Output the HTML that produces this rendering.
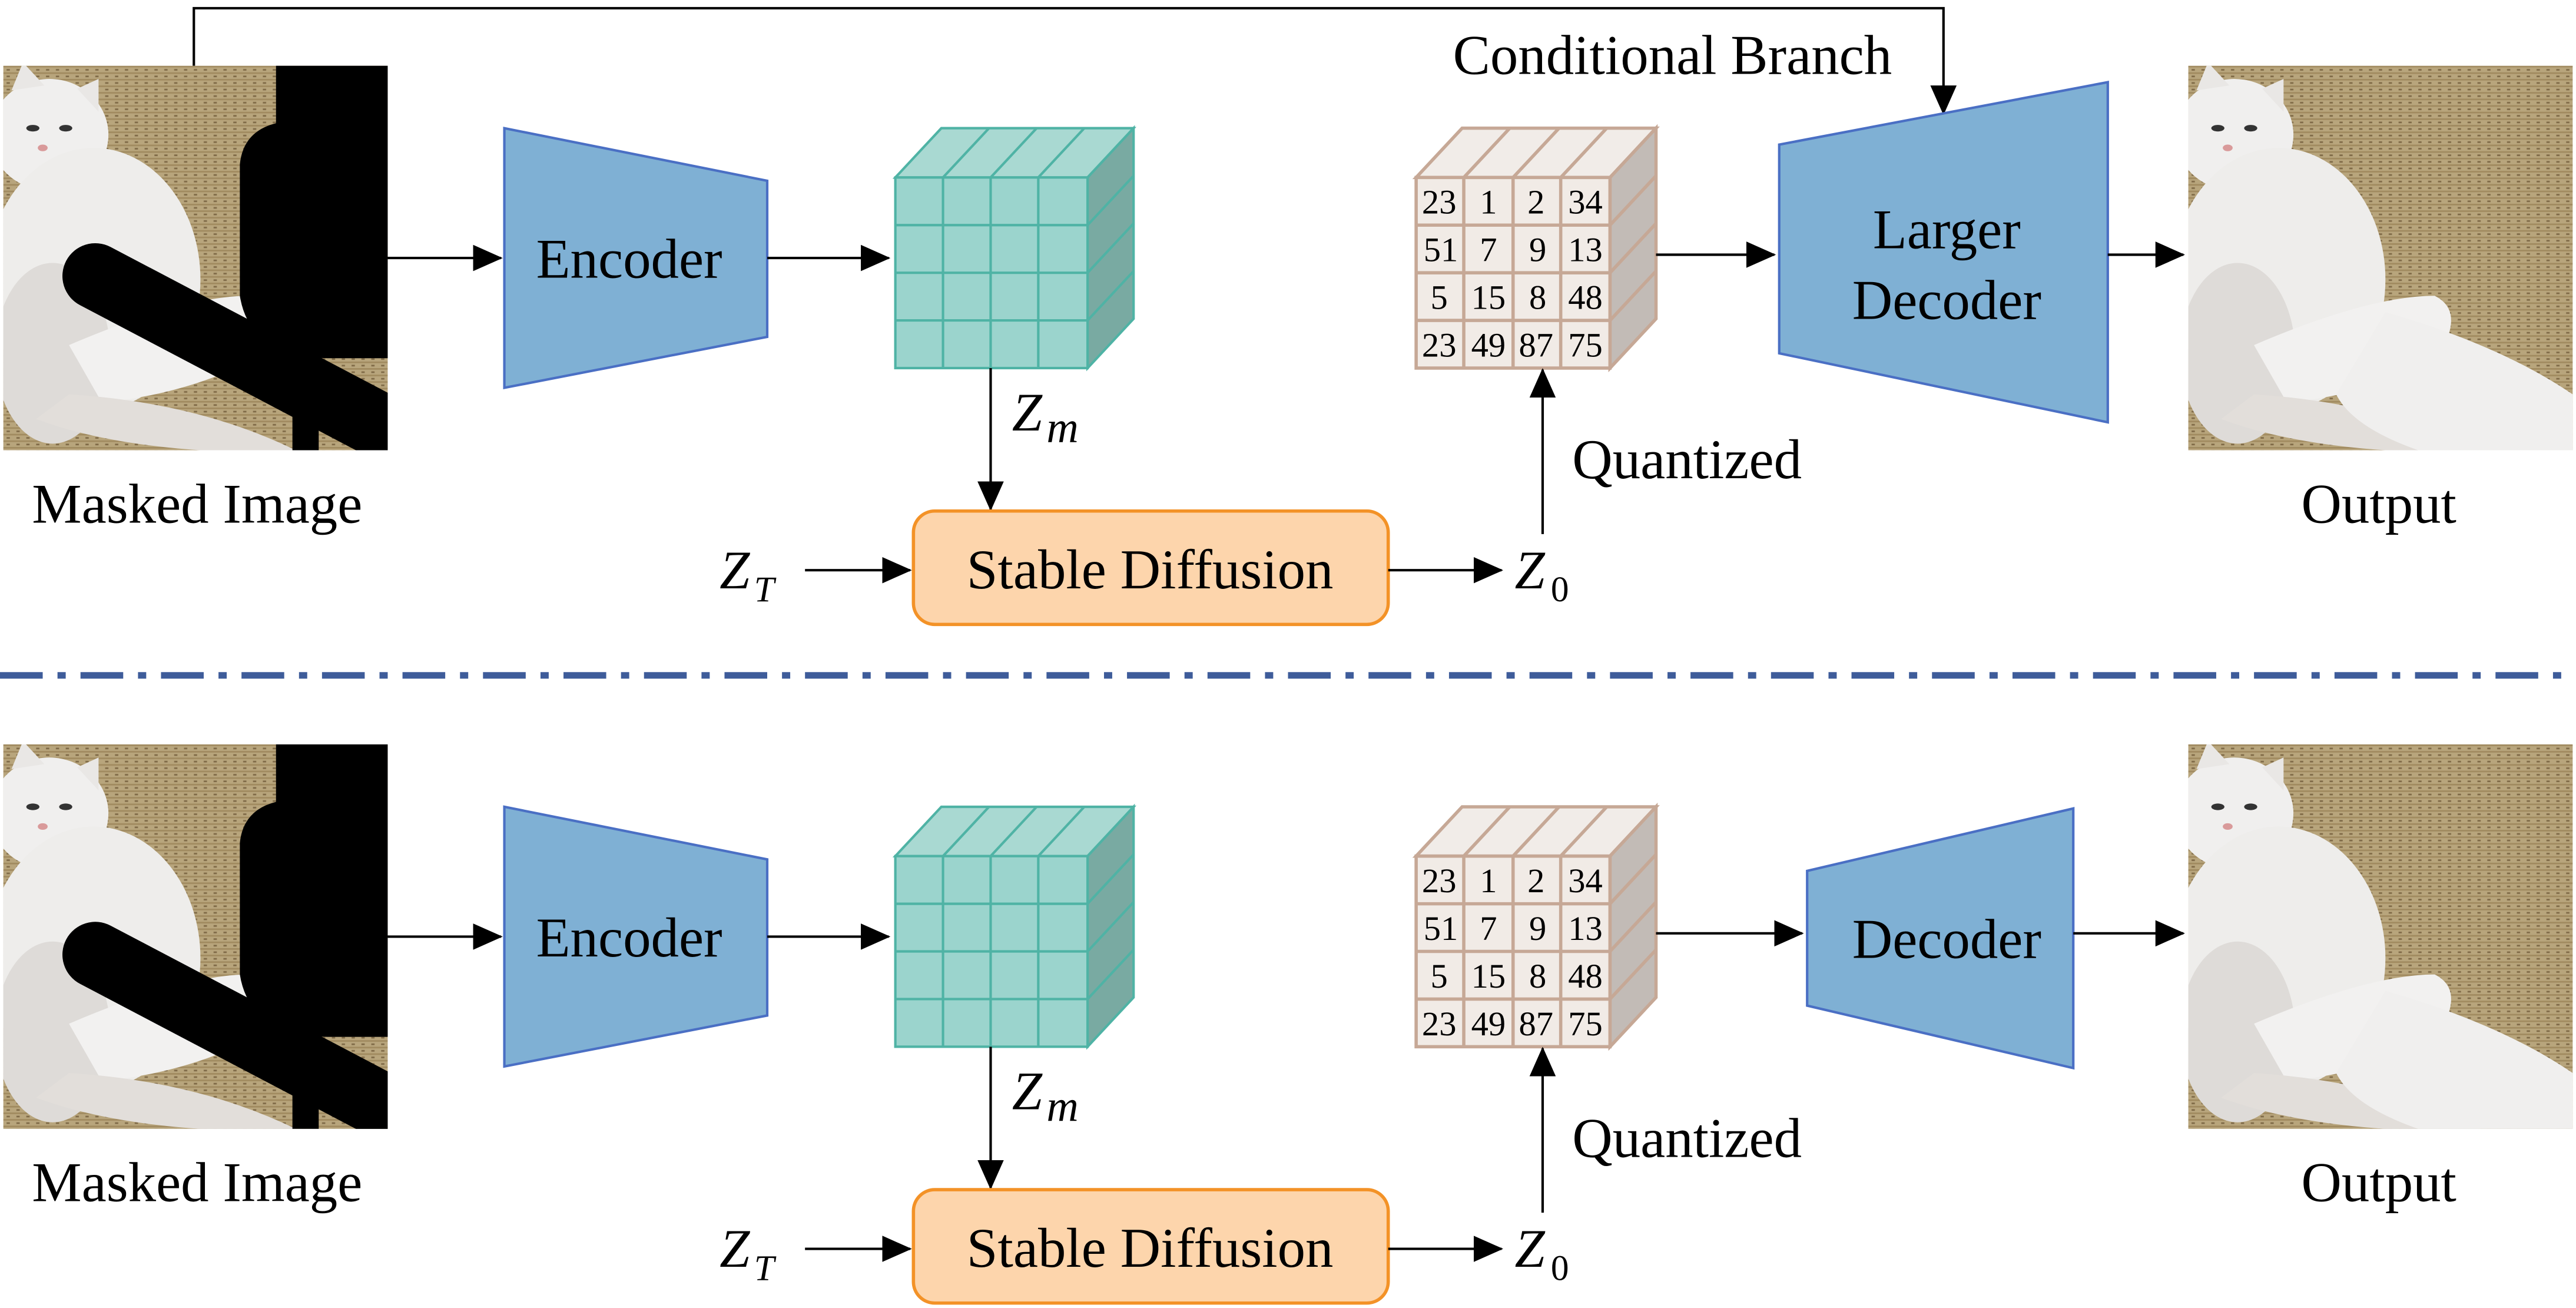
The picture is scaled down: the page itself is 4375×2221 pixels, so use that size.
<!DOCTYPE html>
<html><head><meta charset="utf-8"><style>
html,body{margin:0;padding:0;background:#fff;}
svg{display:block;}
</style></head><body>
<svg width="4375" height="2221" viewBox="0 0 1568 796" xmlns="http://www.w3.org/2000/svg" font-family="'Liberation Serif', 'DejaVu Serif', serif">
<defs>
<marker id="ah" markerWidth="18" markerHeight="16" refX="17" refY="8" orient="auto" markerUnits="userSpaceOnUse" viewBox="0 0 18 16">
<path d="M0,0 L18,8 L0,16 z" fill="#000"/></marker>
<pattern id="fab" width="6" height="4" patternUnits="userSpaceOnUse">
<rect width="6" height="4" fill="#b8a57c"/><rect y="0" width="6" height="1" fill="#a18b60"/><rect x="2" y="2" width="2" height="1" fill="#806b48"/>
</pattern>
<g id="photo">
<rect x="0" y="0" width="234" height="234" fill="url(#fab)"/>
<ellipse cx="28" cy="42" rx="36" ry="34" fill="#f0efee"/>
<path d="M5,15 L12,-2 L25,12 Z M45,14 L58,8 L58,28 Z" fill="#e9e7e5"/>
<ellipse cx="55" cy="130" rx="65" ry="80" fill="#eeedeb"/>
<ellipse cx="30" cy="175" rx="35" ry="55" fill="#dedbd8"/>
<path d="M40,170 Q110,140 150,140 Q170,150 150,180 Q110,200 60,205 Z" fill="#f2f1f0"/>
<path d="M40,200 Q120,205 180,235 L120,234 Q60,230 20,215 Z" fill="#e2deda"/>
<ellipse cx="18" cy="38" rx="4" ry="2" fill="#333"/><ellipse cx="38" cy="38" rx="4" ry="2" fill="#333"/>
<ellipse cx="24" cy="50" rx="3" ry="2" fill="#d99a9a"/>
</g>
<g id="masks">
<path d="M166,0 L234,0 L234,178 L200,178 Q150,178 144,140 L144,60 Q146,40 166,35 Z" fill="#000"/>
<line x1="56" y1="128" x2="250" y2="230" stroke="#000" stroke-width="40" stroke-linecap="round"/>
<rect x="176" y="150" width="16" height="84" fill="#000"/>
</g>
<clipPath id="cp"><rect x="0" y="0" width="234" height="234"/></clipPath>
<g id="tealcube">
<polygon points="545,108 573,78 690,78 662,108" fill="#a9d9d2" stroke="#4fb3a5" stroke-width="1.5"/>
<polygon points="662,108 690,78 690,194 662,224" fill="#79aaa2" stroke="#4fb3a5" stroke-width="1.5"/>
<rect x="545" y="108" width="117" height="116" fill="#9bd4cd" stroke="#4fb3a5" stroke-width="1.5"/>
<g stroke="#4fb3a5" stroke-width="1.5">
<line x1="574" y1="108" x2="574" y2="224"/><line x1="603" y1="108" x2="603" y2="224"/><line x1="632" y1="108" x2="632" y2="224"/>
<line x1="545" y1="137" x2="662" y2="137"/><line x1="545" y1="166" x2="662" y2="166"/><line x1="545" y1="195" x2="662" y2="195"/>
<line x1="574" y1="108" x2="602" y2="78"/><line x1="603" y1="108" x2="631" y2="78"/><line x1="632" y1="108" x2="660" y2="78"/>
<line x1="662" y1="137" x2="690" y2="107"/><line x1="662" y1="166" x2="690" y2="136"/><line x1="662" y1="195" x2="690" y2="165"/>
</g></g>
<g id="beigecube">
<polygon points="862,108 890,78 1008,78 980,108" fill="#f1ece8" stroke="#c6a896" stroke-width="2"/>
<polygon points="980,108 1008,78 1008,194 980,224" fill="#c2bbb6" stroke="#c6a896" stroke-width="2"/>
<rect x="862" y="108" width="118" height="116" fill="#f1ebe6" stroke="#c6a896" stroke-width="2"/>
<g stroke="#c6a896" stroke-width="2">
<line x1="891" y1="108" x2="891" y2="224"/><line x1="921" y1="108" x2="921" y2="224"/><line x1="950" y1="108" x2="950" y2="224"/>
<line x1="862" y1="137" x2="980" y2="137"/><line x1="862" y1="166" x2="980" y2="166"/><line x1="862" y1="195" x2="980" y2="195"/>
<line x1="891" y1="108" x2="919" y2="78"/><line x1="921" y1="108" x2="949" y2="78"/><line x1="950" y1="108" x2="978" y2="78"/>
<line x1="980" y1="137" x2="1008" y2="107"/><line x1="980" y1="166" x2="1008" y2="136"/><line x1="980" y1="195" x2="1008" y2="165"/>
</g>
<g font-size="21" text-anchor="middle">
<text x="876" y="130">23</text><text x="906" y="130">1</text><text x="935" y="130">2</text><text x="965" y="130">34</text>
<text x="877" y="159">51</text><text x="906" y="159">7</text><text x="936" y="159">9</text><text x="965" y="159">13</text>
<text x="876" y="188">5</text><text x="906" y="188">15</text><text x="936" y="188">8</text><text x="965" y="188">48</text>
<text x="876" y="217">23</text><text x="906" y="217">49</text><text x="935" y="217">87</text><text x="965" y="217">75</text>
</g></g>
<g id="common">
<line x1="236" y1="157" x2="305" y2="157" stroke="#000" stroke-width="1.5" marker-end="url(#ah)"/>
<polygon points="307,78 467,110 467,205 307,236" fill="#7fb0d4" stroke="#4a6fc4" stroke-width="1.5"/>
<text x="383" y="169" font-size="34" text-anchor="middle">Encoder</text>
<line x1="467" y1="157" x2="541" y2="157" stroke="#000" stroke-width="1.5" marker-end="url(#ah)"/>
<use href="#tealcube"/>
<use href="#beigecube"/>
<text x="616" y="262" font-size="33" font-style="italic">Z</text><text x="637" y="269" font-size="27" font-style="italic">m</text>
<line x1="603" y1="224" x2="603" y2="310" stroke="#000" stroke-width="1.5" marker-end="url(#ah)"/>
<rect x="556" y="311" width="289" height="69" rx="13" fill="#fdd5ac" stroke="#f39227" stroke-width="2"/>
<text x="700" y="358" font-size="34" text-anchor="middle">Stable Diffusion</text>
<text x="438" y="358" font-size="33" font-style="italic">Z</text><text x="459" y="366" font-size="22" font-style="italic">T</text>
<line x1="490" y1="347" x2="554" y2="347" stroke="#000" stroke-width="1.5" marker-end="url(#ah)"/>
<line x1="845" y1="347" x2="914" y2="347" stroke="#000" stroke-width="1.5" marker-end="url(#ah)"/>
<text x="922" y="358" font-size="33" font-style="italic">Z</text><text x="944" y="366" font-size="22">0</text>
<line x1="939" y1="325" x2="939" y2="225" stroke="#000" stroke-width="1.5" marker-end="url(#ah)"/>
<text x="957" y="291" font-size="34">Quantized</text>
<text x="120" y="318" font-size="34" text-anchor="middle">Masked Image</text>
<text x="1448" y="318" font-size="34" text-anchor="middle">Output</text>
<g transform="translate(2,40)"><g clip-path="url(#cp)"><use href="#photo"/><use href="#masks"/></g></g>
<g transform="translate(1332,40)"><g clip-path="url(#cp)"><use href="#photo"/>
<path d="M120,150 Q190,170 234,200 L234,234 L140,234 Q100,220 90,200 Z" fill="#f0efee"/></g></g>
</g>
</defs>

<use href="#common"/>
<polyline points="118,40 118,5 1183,5 1183,69" fill="none" stroke="#000" stroke-width="1.5" marker-end="url(#ah)"/>
<text x="1018" y="45" font-size="34" text-anchor="middle">Conditional Branch</text>
<line x1="1008" y1="155" x2="1080" y2="155" stroke="#000" stroke-width="1.5" marker-end="url(#ah)"/>
<polygon points="1083,88 1283,50 1283,257 1083,215" fill="#7fb0d4" stroke="#4a6fc4" stroke-width="1.5"/>
<text x="1185" y="151" font-size="34" text-anchor="middle">Larger</text>
<text x="1185" y="194" font-size="34" text-anchor="middle">Decoder</text>
<line x1="1283" y1="155" x2="1329" y2="155" stroke="#000" stroke-width="1.5" marker-end="url(#ah)"/>

<line x1="0" y1="411" x2="1568" y2="411" stroke="#3e5c9a" stroke-width="4" stroke-dasharray="26,9,5,9"/>

<g transform="translate(0,413)"><use href="#common"/>
<line x1="1008" y1="155" x2="1097" y2="155" stroke="#000" stroke-width="1.5" marker-end="url(#ah)"/>
<polygon points="1100,117 1262,79 1262,237 1100,199" fill="#7fb0d4" stroke="#4a6fc4" stroke-width="1.5"/>
<text x="1185" y="170" font-size="34" text-anchor="middle">Decoder</text>
<line x1="1262" y1="155" x2="1329" y2="155" stroke="#000" stroke-width="1.5" marker-end="url(#ah)"/>
</g>
</svg>
</body></html>
